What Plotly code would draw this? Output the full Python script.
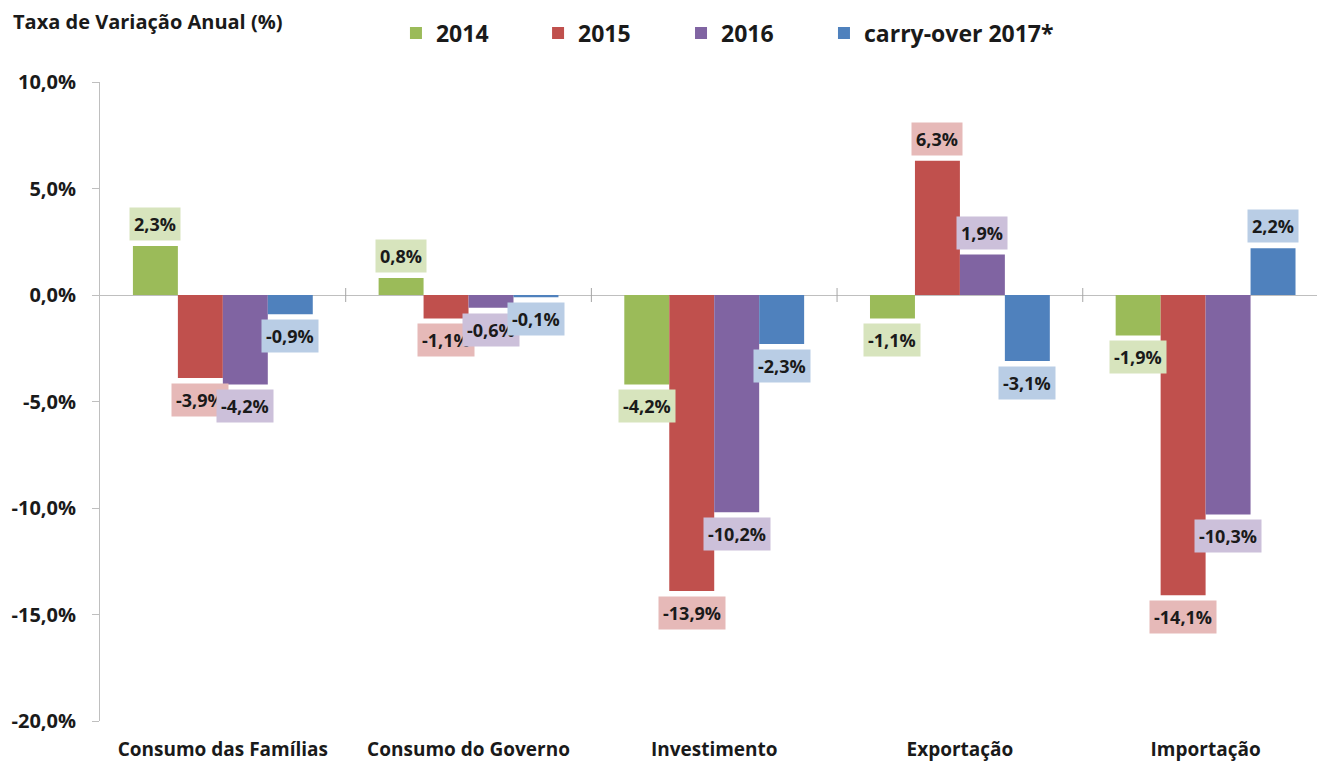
import plotly.graph_objects as go

# Dados
categorias = ["Consumo das Famílias", "Consumo do Governo", "Investimento", "Exportação", "Importação"]
anos = ["2014", "2015", "2016", "carry-over 2017*"]
v2014 = [2.3, 0.8, -4.2, -1.1, -1.9]
v2015 = [-3.9, -1.1, -13.9, 6.3, -14.1]
v2016 = [-4.2, -0.6, -10.2, 1.9, -10.3]
v2017 = [-0.9, -0.1, -2.3, -3.1, 2.2]
y_ticks = [10, 5, 0, -5, -10, -15, -20]

series = [v2014, v2015, v2016, v2017]
cores = ["#9bbb59", "#c0504d", "#8064a2", "#4f81bd"]
cores_rotulo = ["#d7e4bd", "#e6b9b8", "#ccc0da", "#b9cde5"]
# posição (paper) de cada item da legenda
legenda_x = [0.2416, 0.3576, 0.4743, 0.5910]

FONT = "Open Sans"
TXT = "#1a1a1a"
bar_w = 0.183
n = len(series)
x_idx = list(range(len(categorias)))


def fmt(v):
    return f"{v:.1f}%".replace(".", ",")


fig = go.Figure()
annots = []
legendas = {}
for k, (nome, vals) in enumerate(zip(anos, series)):
    off = (k - (n - 1) / 2) * bar_w
    xs = [i + off for i in x_idx]
    leg = "legend" if k == 0 else f"legend{k + 1}"
    fig.add_trace(go.Bar(
        x=xs, y=vals, name=nome, width=bar_w, legend=leg, showlegend=True,
        marker=dict(color=cores[k], line=dict(width=0)),
        hoverinfo="skip",
    ))
    legendas[leg] = dict(x=legenda_x[k], xanchor="left", y=1.0767, yanchor="middle",
                         orientation="h", bgcolor="rgba(0,0,0,0)", visible=True,
                         font=dict(family=FONT, size=23, color=TXT, weight="bold"))
    for x, v in zip(xs, vals):
        annots.append(dict(
            x=x, y=v, xref="x", yref="y", text=fmt(v), showarrow=False,
            yshift=22 if v >= 0 else -22, yanchor="middle",
            bgcolor=cores_rotulo[k], borderpad=4,
            font=dict(family=FONT, size=18, color=TXT, weight="bold"),
        ))

# marcas entre categorias no eixo zero
shapes = []
for i in x_idx[:-1]:
    shapes.append(dict(type="line", xref="x", yref="y", ysizemode="pixel",
                       x0=i + 0.5, x1=i + 0.5, yanchor=0, y0=-7, y1=7,
                       line=dict(color="#a6a6a6", width=1)))

fig.update_layout(
    width=1317, height=755,
    margin=dict(l=92, r=0, t=74, b=42),
    plot_bgcolor="white", paper_bgcolor="white",
    barmode="overlay",
    showlegend=True,
    title=dict(text="Taxa de Variação Anual (%)", xref="container", yref="container",
               x=5 / 1317, xanchor="left", y=1 - 14 / 755, yanchor="middle", pad=dict(l=0),
               font=dict(family=FONT, size=20, color=TXT, weight="bold")),
    xaxis=dict(range=[-0.5, 4.486], tickvals=x_idx, ticktext=categorias,
               showgrid=False, zeroline=False, showline=False, ticks="",
               ticklabelstandoff=15,
               tickfont=dict(family=FONT, size=19, color=TXT, weight="bold")),
    yaxis=dict(range=[-20, 10], tickvals=y_ticks, ticktext=[fmt(t) for t in y_ticks],
               showgrid=False, zeroline=True, zerolinecolor="#bfbfbf", zerolinewidth=1,
               showline=True, linecolor="#bfbfbf", linewidth=1,
               ticks="outside", ticklen=7, tickcolor="#bfbfbf", ticklabelstandoff=12,
               tickfont=dict(family=FONT, size=20, color=TXT, weight="bold")),
    annotations=annots,
    shapes=shapes,
)
fig.update_layout(legendas)

fig.write_html("out.html")
